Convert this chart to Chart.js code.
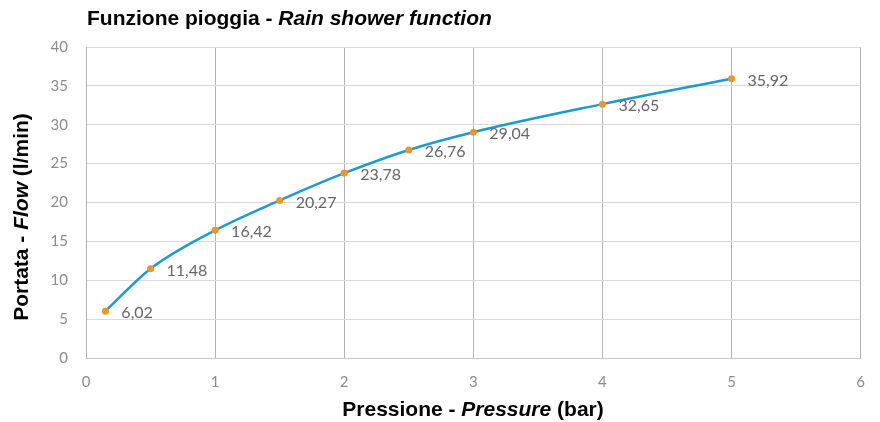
<!DOCTYPE html>
<html>
<head>
<meta charset="utf-8">
<script src="https://cdn.jsdelivr.net/npm/chart.js@4"></script>
<style>
  html, body { margin: 0; padding: 0; background: #fff; }
  #wrap { width: 880px; height: 422px; }
</style>
</head>
<body>
<div id="wrap"><canvas id="chart" width="880" height="422"></canvas></div>
<script>
// pressione (bar) e portata (l/min)
const pressure = [0.15, 0.5, 1, 1.5, 2, 2.5, 3, 4, 5];
const flow = [6.02, 11.48, 16.42, 20.27, 23.78, 26.76, 29.04, 32.65, 35.92];
const flowLabels = ['6,02', '11,48', '16,42', '20,27', '23,78', '26,76', '29,04', '32,65', '35,92'];

const titleParts = [['Funzione pioggia - ', 'bold'], ['Rain shower function', 'italic bold']];
const xTitleParts = [['Pressione - ', 'bold'], ['Pressure', 'italic bold'], [' (bar)', 'bold']];
const yTitleParts = [['Portata - ', 'bold'], ['Flow', 'italic bold'], [' (l/min)', 'bold']];

const titleFont = '"Liberation Sans", Arial, sans-serif';
const tickFont = 'Lato, "Open Sans", sans-serif';

// scrive un testo con pezzi in stili diversi
function drawParts(ctx, parts, size, x, y, align) {
  let total = 0;
  parts.forEach(p => {
    ctx.font = p[1] + ' ' + size + 'px ' + titleFont;
    total += ctx.measureText(p[0]).width;
  });
  let cx = align === 'center' ? x - total / 2 : x;
  parts.forEach(p => {
    ctx.font = p[1] + ' ' + size + 'px ' + titleFont;
    ctx.fillText(p[0], cx, y);
    cx += ctx.measureText(p[0]).width;
  });
}

const titles = {
  id: 'titles',
  afterDraw(chart) {
    const ctx = chart.ctx;
    ctx.save();
    ctx.fillStyle = '#000';
    ctx.textAlign = 'left';
    ctx.textBaseline = 'middle';
    drawParts(ctx, titleParts, 21, 87, 19, 'left');
    drawParts(ctx, xTitleParts, 21, 473, 410, 'center');
    ctx.translate(22, 217);
    ctx.rotate(-Math.PI / 2);
    drawParts(ctx, yTitleParts, 21, 0, 0, 'center');
    ctx.restore();
  }
};

const pointLabels = {
  id: 'pointLabels',
  afterDatasetsDraw(chart) {
    const ctx = chart.ctx;
    const meta = chart.getDatasetMeta(0);
    ctx.save();
    ctx.fillStyle = '#666';
    ctx.font = '16px ' + tickFont;
    ctx.textAlign = 'left';
    ctx.textBaseline = 'middle';
    meta.data.forEach((pt, i) => {
      ctx.fillText(flowLabels[i], pt.x + 16, pt.y + 2);
    });
    ctx.restore();
  }
};

new Chart(document.getElementById('chart'), {
  type: 'line',
  data: {
    datasets: [{
      data: pressure.map((p, i) => ({ x: p, y: flow[i] })),
      borderColor: '#1b9ad6',
      borderWidth: 2.5,
      cubicInterpolationMode: 'monotone',
      pointRadius: 3.5,
      pointBackgroundColor: '#f7941d',
      pointBorderColor: '#f7941d',
      pointBorderWidth: 0
    }]
  },
  options: {
    responsive: false,
    animation: false,
    layout: { padding: { top: 47, right: 10, left: 0, bottom: 0 } },
    plugins: {
      legend: { display: false },
      tooltip: { enabled: false }
    },
    scales: {
      x: {
        type: 'linear',
        min: 0,
        max: 6,
        afterFit: s => { s.height = 64; },
        ticks: { stepSize: 1, padding: 15, color: '#8c8c8c', font: { family: tickFont, size: 15 } },
        grid: { color: '#b4b4b4', drawTicks: false },
        border: { color: '#c8c8c8' }
      },
      y: {
        min: 0,
        max: 40,
        afterFit: s => { s.width = 86; },
        ticks: { stepSize: 5, padding: 18, color: '#8c8c8c', font: { family: tickFont, size: 15 } },
        grid: { color: '#dadada', drawTicks: false },
        border: { color: '#b4b4b4' }
      }
    }
  },
  plugins: [titles, pointLabels]
});
</script>
</body>
</html>
